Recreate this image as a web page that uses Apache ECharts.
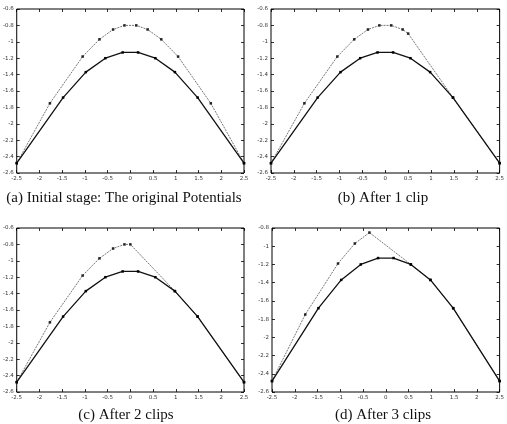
<!DOCTYPE html>
<html>
<head>
<meta charset="utf-8">
<script src="https://cdn.jsdelivr.net/npm/echarts@6/dist/echarts.min.js"></script>
<style>
  html, body { margin: 0; padding: 0; background: #fff; }
  #chart { width: 507px; height: 424px; }
</style>
</head>
<body>
<div id="chart"></div>
<script>
// true potential (solid curve), same in all four panels
var innerX = [-2.5, -1.48, -0.98, -0.55, -0.17, 0.17, 0.55, 0.98, 1.48, 2.5]
var innerY = [-2.48, -1.68, -1.37, -1.2, -1.13, -1.13, -1.2, -1.37, -1.68, -2.48]

// upper bound (dotted curve) per stage
var outerAX = [-2.5, -1.77, -1.05, -0.68, -0.38, -0.13, 0.13, 0.38, 0.68, 1.05, 1.77, 2.5]
var outerAY = [-2.48, -1.75, -1.18, -0.97, -0.85, -0.8, -0.8, -0.85, -0.97, -1.18, -1.75, -2.48]
var outerBX = [-2.5, -1.77, -1.05, -0.68, -0.38, -0.13, 0.13, 0.38, 0.5, 1.48, 2.5]
var outerBY = [-2.48, -1.75, -1.18, -0.97, -0.85, -0.8, -0.8, -0.85, -0.9, -1.68, -2.48]
var outerCX = [-2.5, -1.77, -1.05, -0.68, -0.38, -0.13, 0.0, 0.98, 1.48, 2.5]
var outerCY = [-2.48, -1.75, -1.18, -0.97, -0.85, -0.8, -0.8, -1.37, -1.68, -2.48]
var outerDX = [-2.5, -1.77, -1.05, -0.68, -0.36, 0.55, 0.98, 1.48, 2.5]
var outerDY = [-2.48, -1.75, -1.19, -0.97, -0.85, -1.2, -1.37, -1.68, -2.48]

var captions = ['(a) Initial stage: The original Potentials', '(b) After 1 clip', '(c) After 2 clips', '(d) After 3 clips']
var yMax = [-0.6, -0.6, -0.6, -0.8]
var yMin = -2.6

var grids = [
  { left: 14, top: 9, width: 230, height: 164 },
  { left: 271, top: 9, width: 229, height: 164 },
  { left: 14, top: 228, width: 230, height: 164 },
  { left: 272, top: 228, width: 228, height: 164 }
]
var captionPos = [[119, 186], [378, 186], [121, 403], [378, 403]]
var outers = [[outerAX, outerAY], [outerBX, outerBY], [outerCX, outerCY], [outerDX, outerDY]]

function pairs (xs, ys) {
  return xs.map(function (x, i) { return [x, ys[i]] })
}

function tickText (v) {
  return String(Math.round(v * 10) / 10)
}

var labelStyle = {
  fontSize: 5.5, color: '#333', fontFamily: 'DejaVu Sans', margin: 3,
  hideOverlap: false, showMinLabel: true, showMaxLabel: true, formatter: tickText
}
var xAxes = []
var yAxes = []
var series = []
var titles = []

grids.forEach(function (g, i) {
  g.show = true
  g.borderColor = '#000'
  g.borderWidth = 1
  ;['bottom', 'top'].forEach(function (pos) {
    xAxes.push({
      type: 'value', gridIndex: i, position: pos, min: -2.5, max: 2.5, interval: 0.5,
      axisLine: { show: false, onZero: false },
      axisTick: { inside: true, length: 3, lineStyle: { color: '#000', width: 0.8 } },
      axisLabel: Object.assign({ show: pos === 'bottom' }, labelStyle),
      splitLine: { show: false }
    })
  })
  ;['left', 'right'].forEach(function (pos) {
    yAxes.push({
      type: 'value', gridIndex: i, position: pos, min: yMin, max: yMax[i], interval: 0.2,
      axisLine: { show: false, onZero: false },
      axisTick: { inside: true, length: 3, lineStyle: { color: '#000', width: 0.8 } },
      axisLabel: Object.assign({ show: pos === 'left' }, labelStyle),
      splitLine: { show: false }
    })
  })
  series.push({
    type: 'line', xAxisIndex: i * 2, yAxisIndex: i * 2,
    data: pairs(outers[i][0], outers[i][1]),
    symbol: 'rect', symbolSize: 2.5, showSymbol: true,
    itemStyle: { color: '#222' },
    lineStyle: { color: '#555', width: 0.8, type: [2, 1] },
    animation: false, z: 3
  })
  series.push({
    type: 'line', xAxisIndex: i * 2, yAxisIndex: i * 2,
    data: pairs(innerX, innerY),
    symbol: 'rect', symbolSize: 2.5, showSymbol: true,
    itemStyle: { color: '#000' },
    lineStyle: { color: '#111', width: 1.3 },
    animation: false, z: 4
  })
  titles.push({
    text: captions[i],
    left: captionPos[i][0], top: captionPos[i][1], textAlign: 'center',
    textStyle: { fontFamily: 'Liberation Serif', fontWeight: 'normal', fontSize: 15, color: '#111' }
  })
})

var dom = echarts.init(document.getElementById('chart'))
var option = {
  animation: false,
  backgroundColor: '#fff',
  title: titles,
  grid: grids,
  xAxis: xAxes,
  yAxis: yAxes,
  series: series
}
dom.setOption(option)
</script>
</body>
</html>
